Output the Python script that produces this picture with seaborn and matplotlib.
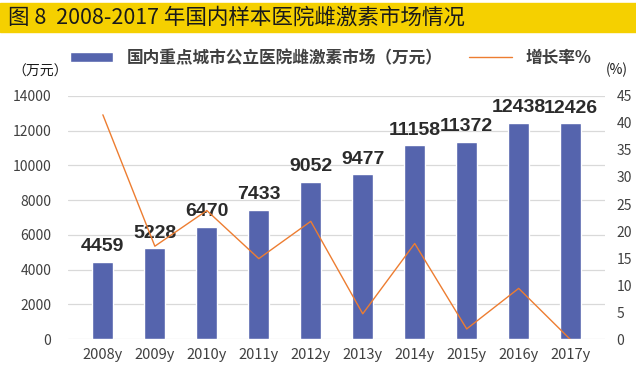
import numpy as np
import pandas as pd
import matplotlib
matplotlib.use("Agg")
import matplotlib.pyplot as plt
import seaborn as sns

years = ["2008y", "2009y", "2010y", "2011y", "2012y", "2013y", "2014y", "2015y", "2016y", "2017y"]
market = [4459, 5228, 6470, 7433, 9052, 9477, 11158, 11372, 12438, 12426]
growth = [41.5, 17.2, 23.8, 14.9, 21.8, 4.7, 17.7, 1.9, 9.4, -0.1]

sns.set_style("white")
plt.rcParams['font.family'] = ['Noto Sans CJK SC', 'DejaVu Sans']

df = pd.DataFrame({"year": years, "market": market, "growth": growth})

fig = plt.figure(figsize=(6.36, 3.79), dpi=100)
ax = fig.add_axes([0.107, 0.105, 0.845, 0.642])

# title band
fig.patches.append(plt.Rectangle((0, 1 - 32 / 379), 1, 29 / 379, transform=fig.transFigure,
                                 color="#F5D000", zorder=0))
fig.text(0.012, 1 - 17.5 / 379, "图 8  2008-2017 年国内样本医院雌激素市场情况", fontsize=15.5,
         va="center", ha="left", color="#1a1a1a")

sns.barplot(data=df, x="year", y="market", color="#5564AD", width=0.4, saturation=1,
            ax=ax, zorder=3, label="国内重点城市公立医院雌激素市场（万元）")
ax.set_ylim(0, 14000)
ax.set_yticks(range(0, 14001, 2000))
ax.yaxis.grid(True, color="#d9d9d9", linewidth=0.9, zorder=0)
ax.set_axisbelow(True)
for s in ax.spines.values():
    s.set_visible(False)
ax.set_xlabel("")
ax.set_ylabel("")
ax.tick_params(axis="y", length=0, labelsize=10, colors="#404040", pad=12)
ax.tick_params(axis="x", length=0, labelsize=10.5, colors="#404040", pad=6)
for lbl in ax.get_xticklabels():
    lbl.set_style("italic")

for i, v in enumerate(market):
    ax.text(i, v + 380, str(v), ha="center", va="bottom", fontsize=14, fontweight="bold",
            color="#2b2b2b", family="Liberation Sans", zorder=5)

ax2 = ax.twinx()
sns.lineplot(data=df, x="year", y="growth", color="#ED7D31", linewidth=1, ax=ax2,
             label="增长率%", legend=False)
ax2.set_ylim(0, 45)
ax2.set_yticks(range(0, 46, 5))
ax2.set_ylabel("")
for s in ax2.spines.values():
    s.set_visible(False)
ax2.tick_params(axis="y", length=0, labelsize=10, colors="#404040", pad=8)

h1, l1 = ax.get_legend_handles_labels()
h2, l2 = ax2.get_legend_handles_labels()
if ax.get_legend() is not None:
    ax.get_legend().remove()
fig.legend(h1 + h2, l1 + l2, loc="center", bbox_to_anchor=(0.52, 1 - 58 / 379), ncol=2,
           frameon=False, handlelength=2.6, handleheight=0.6, columnspacing=1.6,
           prop={"weight": "bold", "size": 12}, labelcolor="#404040")

fig.text(0.02, 1 - 72 / 379, "（万元）", fontsize=10, color="#1a1a1a", va="center")
fig.text(0.953, 1 - 70 / 379, "(%)", fontsize=10, color="#1a1a1a", va="center")

fig.savefig("out.png", dpi=100)
